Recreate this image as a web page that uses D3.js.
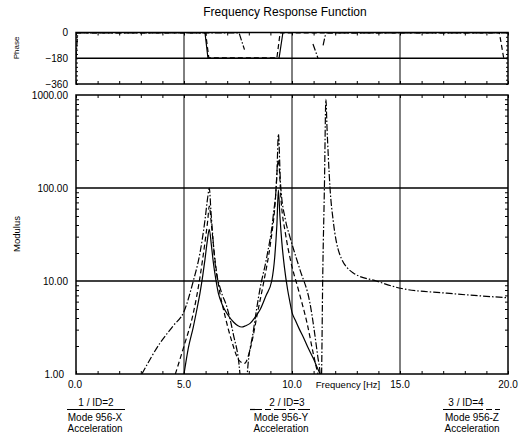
<!DOCTYPE html>
<html><head><meta charset="utf-8">
<script src="https://cdn.jsdelivr.net/npm/d3@7"></script>
<style>
body{margin:0;background:#fff;}
svg{display:block;font-family:"Liberation Sans",Arial,sans-serif;}
</style></head>
<body><svg id="c" width="527" height="436"></svg>
<script>
// ---- data ----
const titleText = "Frequency Response Function";
const xTicks = [0, 5, 10, 15, 20];
const xMinorTicks = d3.range(0, 21, 1);
const phaseTicks = [0, -180, -360];
const modTicks = [1, 10, 100, 1000];
const seriesNames = ["1 / ID=2", "2 / ID=3", "3 / ID=4"];
const seriesModes = ["Mode 956-X", "Mode 956-Y", "Mode 956-Z"];
const seriesQuantity = ["Acceleration", "Acceleration", "Acceleration"];

// modulus [Hz, value]
const modX = [[5.0,1.0],[5.2,1.9],[5.43,3.2],[5.6,5.0],[5.74,7.4],[5.87,11.5],[5.97,17],[6.07,26],[6.17,36],[6.27,24],[6.36,15.7],[6.47,10.5],[6.59,7.4],[6.78,5.5],[6.98,4.5],[7.3,3.6],[7.5,3.3],[7.67,3.2],[7.85,3.3],[8.06,3.5],[8.3,4.1],[8.52,4.9],[8.8,7],[9.06,10],[9.2,18],[9.3,40],[9.37,95],[9.44,50],[9.53,26],[9.65,14],[9.8,8],[9.9,6],[10.0,4.6],[10.15,3.8],[10.35,3.0],[10.52,2.5],[10.75,1.9],[11.0,1.45],[11.15,1.2],[11.3,1.0],[11.6,0.7]];
const modY = [[4.6,1.0],[5.0,2.0],[5.43,4.5],[5.74,11],[5.97,26],[6.1,45],[6.17,64],[6.27,40],[6.4,20],[6.6,9],[6.9,4.2],[7.2,2.3],[7.55,1.4],[7.8,1.3],[8.1,2.0],[8.4,4.5],[8.7,10],[9.0,25],[9.2,60],[9.37,200],[9.5,70],[9.7,32],[9.95,16],[10.3,8],[10.7,3.5],[11.0,1.6],[11.25,0.9],[11.5,0.6]];
const modZ = [[3.05,1.0],[3.89,2.15],[4.5,3.3],[5.0,4.7],[5.43,10],[5.74,20],[5.97,45],[6.1,80],[6.17,100],[6.25,55],[6.44,15.5],[6.7,8],[6.98,5.3],[7.28,2.7],[7.59,1.0],[7.66,0.4],[7.86,0.4],[7.93,1.0],[8.2,2.8],[8.52,8.3],[8.83,18],[9.13,50],[9.3,140],[9.37,380],[9.47,110],[9.7,45],[9.9,30],[10.36,13.4],[10.83,5.8],[11.2,1.5],[11.3,1.0],[11.33,0.5],[11.37,1.0],[11.42,10],[11.5,100],[11.57,900],[11.62,450],[11.68,220],[11.76,100],[11.91,44],[12.2,19.6],[12.84,12.2],[13.9,10],[15.08,8.3],[17.16,7.4],[20,6.6]];

// phase [Hz, deg], null breaks the line
const phaseX = [[0,0],[5.97,0],[6.11,-180],[9.4,-180],[9.58,0],[20,0]];
const phaseY = [[0,-2],[6.0,-2],[6.15,-178],[9.3,-178],[9.45,-2],[19.6,-2],[19.8,-178],[20,-178]];
const phaseZ = [[0,-180],[0.08,-3],[7.55,-3],[7.8,-120],null,[10.97,-80],[11.2,-178],null,[11.44,-90],[11.53,-25],[11.6,-2],[20,-2]];

// ---- layout ----
const svg = d3.select("#c");
const L = 76, R = 508;
const x = d3.scaleLinear().domain([0, 20]).range([L, R]);
const yP = d3.scaleLinear().domain([0, -360]).range([32.5, 84]);
const yM = d3.scaleLog().domain([1, 1000]).range([374, 95]);
const dashes = [null, "5,3", "7,2,1.5,2"];

svg.append("defs").call(d => {
  d.append("clipPath").attr("id","cm").append("rect").attr("x",L).attr("y",95).attr("width",R-L).attr("height",374-95);
  d.append("clipPath").attr("id","cp").append("rect").attr("x",L).attr("y",31).attr("width",R-L).attr("height",55);
});

svg.append("text").attr("x", 285).attr("y", 16).attr("text-anchor","middle")
  .attr("font-size", 12).text(titleText);

function panel(yScale, top, bottom) {
  const g = svg.append("g");
  g.append("g").attr("transform",`translate(0,${top})`)
    .call(d3.axisBottom(x).tickValues(xMinorTicks).tickSize(3).tickFormat(""))
    .call(a => a.select(".domain").remove());
  g.append("g").attr("transform",`translate(0,${bottom})`)
    .call(d3.axisTop(x).tickValues(xMinorTicks).tickSize(3).tickFormat(""))
    .call(a => a.select(".domain").remove());
  g.selectAll("line.vg").data([5,10,15]).join("line")
    .attr("x1", d => x(d)).attr("x2", d => x(d)).attr("y1", top).attr("y2", bottom)
    .attr("stroke","#000").attr("stroke-width",1);
  g.append("rect").attr("x",L).attr("y",top).attr("width",R-L).attr("height",bottom-top)
    .attr("fill","none").attr("stroke","#000").attr("stroke-width",1.5);
  return g;
}

// ---- phase panel ----
const gp = panel(yP, 32.5, 84);
gp.append("g").attr("transform",`translate(${L},0)`)
  .call(d3.axisRight(yP).tickValues(d3.range(0,-361,-30)).tickSize(2).tickFormat(""))
  .call(a => a.select(".domain").remove());
gp.append("g").attr("transform",`translate(${R},0)`)
  .call(d3.axisLeft(yP).tickValues(d3.range(0,-361,-30)).tickSize(2).tickFormat(""))
  .call(a => a.select(".domain").remove());
gp.append("line").attr("x1",L).attr("x2",R).attr("y1",yP(-180)).attr("y2",yP(-180))
  .attr("stroke","#000").attr("stroke-width",1.5);
gp.selectAll("text.pl").data(phaseTicks).join("text")
  .attr("x", 68).attr("y", d => yP(d) + 3.5).attr("text-anchor","end")
  .attr("font-size", 10).text(d => d3.format("d")(d));

const lineP = d3.line().defined(d => d != null).x(d => x(d[0])).y(d => yP(d[1]));
[phaseX, phaseY, phaseZ].forEach((s, i) => {
  svg.append("path").attr("d", lineP(s)).attr("clip-path","url(#cp)")
    .attr("fill","none").attr("stroke","#000").attr("stroke-width",1.2)
    .attr("stroke-dasharray", dashes[i]);
});

// ---- modulus panel ----
const gm = panel(yM, 95, 374);
const minorY = [];
[1,10,100].forEach(b => { for (let k = 2; k <= 9; k++) minorY.push(b*k); });
gm.append("g").attr("transform",`translate(${L},0)`)
  .call(d3.axisRight(yM).tickValues(minorY).tickSize(3).tickFormat(""))
  .call(a => a.select(".domain").remove());
gm.append("g").attr("transform",`translate(${R},0)`)
  .call(d3.axisLeft(yM).tickValues(minorY).tickSize(3).tickFormat(""))
  .call(a => a.select(".domain").remove());
gm.selectAll("line.hg").data([10,100]).join("line")
  .attr("x1",L).attr("x2",R).attr("y1", d => yM(d)).attr("y2", d => yM(d))
  .attr("stroke","#000").attr("stroke-width",1.5);
gm.selectAll("text.ml").data(modTicks).join("text")
  .attr("x", d => d === 1 ? 64 : 68).attr("y", d => yM(d) + 3.5).attr("text-anchor","end")
  .attr("font-size", 10).text(d => d3.format(".2f")(d));
gm.selectAll("text.xl").data(xTicks).join("text")
  .attr("x", d => x(d) + (d === 0 ? -1 : 0)).attr("y", 388).attr("text-anchor","middle")
  .attr("font-size", 10).text(d => d3.format(".1f")(d));
svg.append("text").attr("x", 348).attr("y", 388).attr("text-anchor","middle")
  .attr("font-size", 9.5).text("Frequency [Hz]");

const lineM = d3.line().x(d => x(d[0])).y(d => yM(Math.max(d[1], 0.05)))
  .curve(d3.curveMonotoneX);
[modX, modY, modZ].forEach((s, i) => {
  svg.append("path").attr("d", lineM(s)).attr("clip-path","url(#cm)")
    .attr("fill","none").attr("stroke","#000").attr("stroke-width",1.2)
    .attr("stroke-dasharray", dashes[i]);
});

// axis titles
svg.append("text").attr("transform","translate(18.5,48) rotate(-90)").attr("text-anchor","middle")
  .attr("font-size", 8).text("Phase");
svg.append("text").attr("transform","translate(19.5,234) rotate(-90)").attr("text-anchor","middle")
  .attr("font-size", 9.5).text("Modulus");

// legend
const legC = [95, 281, 472];
const idC = [96, 287, 466];
const legLine = [[67,125],[250,311],[443,500]];
seriesNames.forEach((n, i) => {
  svg.append("text").attr("x", idC[i]).attr("y", 406).attr("text-anchor","middle").attr("font-size",10).text(n);
  svg.append("line").attr("x1", legLine[i][0]).attr("x2", legLine[i][1]).attr("y1", 409.5).attr("y2", 409.5)
    .attr("stroke","#000").attr("stroke-width",1.2).attr("stroke-dasharray", dashes[i] ? (i===1 ? "12,3,6,3" : "40,3,6,3") : null);
  svg.append("text").attr("x", legC[i]).attr("y", 421).attr("text-anchor","middle").attr("font-size",10).text(seriesModes[i]);
  svg.append("text").attr("x", legC[i]).attr("y", 432).attr("text-anchor","middle").attr("font-size",10).text(seriesQuantity[i]);
});
</script></body></html>
